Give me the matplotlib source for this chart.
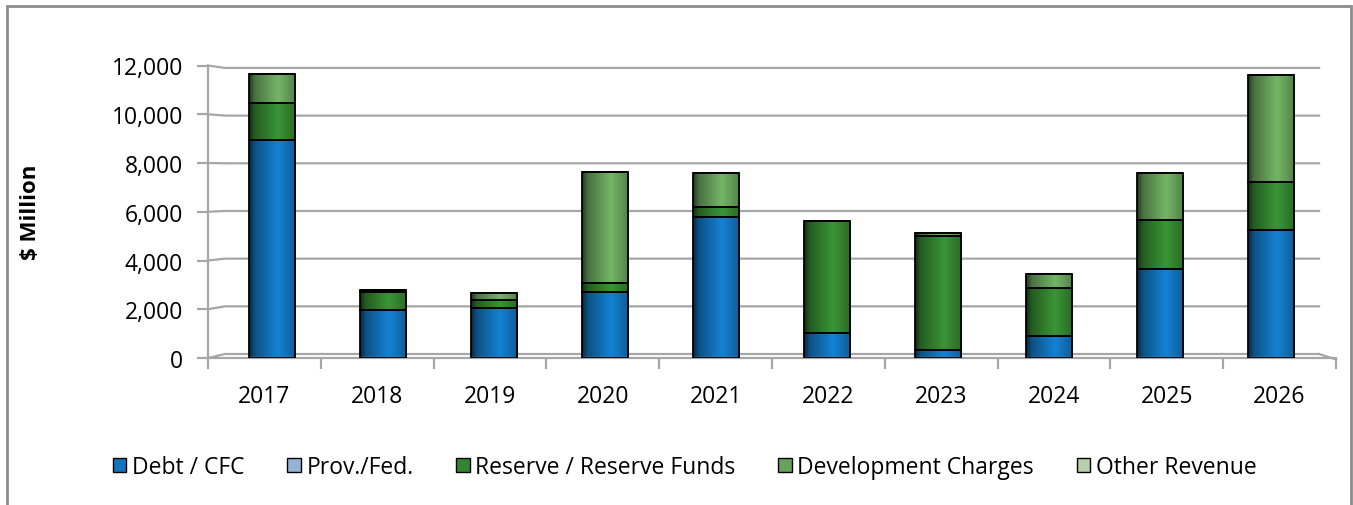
"""Stacked capital funding chart, 2017-2026 ($ Million)."""

import matplotlib

matplotlib.use("Agg")
import matplotlib.pyplot as plt
import numpy as np
from matplotlib.colors import to_rgb
from matplotlib.patches import Patch, Rectangle

plt.rcParams["font.family"] = ["Open Sans", "DejaVu Sans"]

# Data
years = ["2017", "2018", "2019", "2020", "2021", "2022", "2023", "2024", "2025", "2026"]
debt = [8950, 1950, 2040, 2720, 5790, 1040, 320, 900, 3670, 5240]
prov_fed = [0, 0, 0, 0, 0, 0, 0, 0, 0, 0]
reserve = [1510, 760, 340, 340, 410, 4580, 4680, 1960, 2000, 2000]
dev_charges = [1200, 60, 275, 4580, 1400, 0, 130, 590, 1920, 4360]
other_rev = [0, 0, 0, 0, 0, 0, 0, 0, 0, 0]
y_ticks = [0, 2000, 4000, 6000, 8000, 10000, 12000]

series = [
    ("Debt / CFC", debt, "#1274bd"),
    ("Prov./Fed.", prov_fed, "#95b3d7"),
    ("Reserve / Reserve Funds", reserve, "#348530"),
    ("Development Charges", dev_charges, "#68a25c"),
    ("Other Revenue", other_rev, "#b7d0aa"),
]

W, H = 1353, 506
fig = plt.figure(figsize=(W / 100, H / 100), dpi=100)
ax = fig.add_axes([208 / W, 1 - 359 / H, (1336 - 208) / W, (359 - 66.5) / H])

grid_c = "#a6a6a6"
x = np.arange(len(years))
# bars sit a little deeper than the category axis (3D look)
x_bar = x * 0.984 + 0.067
width = 0.41

# cylinder-like horizontal shading
prof_pos = [0.0, 0.12, 0.62, 1.0]
prof_val = [0.35, 0.7, 1.12, 0.8]
t = np.linspace(0, 1, 64)
shade = np.interp(t, prof_pos, prof_val)

bottom = np.zeros(len(years))
for name, vals, color in series:
    vals = np.array(vals, dtype=float)
    base = np.array(to_rgb(color))
    grad = np.clip(base[None, :] * shade[:, None], 0, 1)[None, :, :]
    bars = ax.bar(x_bar, vals, width, bottom=bottom, facecolor="none",
                  edgecolor="black", linewidth=1.3, zorder=3)
    for patch, v, b in zip(bars.patches, vals, bottom):
        if v <= 0:
            continue
        x0 = patch.get_x()
        im = ax.imshow(grad, extent=[x0, x0 + width, b, b + v], aspect="auto",
                       interpolation="bilinear", zorder=2)
        im.set_clip_path(patch)
    bottom += vals

# back-wall gridlines with a small perspective step at the left wall
for v in y_ticks:
    back = 164 + 0.978 * v
    ax.plot([-0.5, -0.35, 9.35], [v, back, back], color=grid_c, lw=1.6,
            zorder=1, clip_on=False)
# floor right edge
ax.plot([9.35, 9.5], [164, -60], color=grid_c, lw=1.6, zorder=1, clip_on=False)

ax.set_xlim(-0.5, 9.5)
ax.set_ylim(0, 12000)
ax.set_yticks(y_ticks)
ax.set_yticklabels([f"{v:,}" for v in y_ticks])
ax.set_xticks(x)
ax.set_xticklabels(years)
ax.set_xticks(np.arange(-0.5, 10, 1.0), minor=True)

for s in ["top", "right"]:
    ax.spines[s].set_visible(False)
for s in ["left", "bottom"]:
    ax.spines[s].set_color(grid_c)
    ax.spines[s].set_linewidth(1.6)

ax.tick_params(axis="y", length=8, width=1.6, color=grid_c, pad=10,
               labelsize=16.5, direction="out")
ax.tick_params(axis="x", which="major", length=0, pad=19, labelsize=16.5)
ax.tick_params(axis="x", which="minor", length=8, width=1.6, color=grid_c,
               direction="out")

fig.text(31 / W, 1 - 212 / H, "$ Million", rotation=90, ha="center",
         va="center", fontsize=16, fontweight="bold")

handles = [Patch(facecolor=c, edgecolor="black", linewidth=1.0) for _, _, c in series]
labels = [n for n, _, _ in series]
fig.legend(handles, labels, loc="center", bbox_to_anchor=(0.506, 1 - 468 / H),
           ncol=5, frameon=False, fontsize=16.5, handlelength=0.6,
           handleheight=0.6, handletextpad=0.25, columnspacing=1.85)

# chart-area frame (bottom edge lies outside the picture)
fig.patches.append(Rectangle((7 / W, -0.1), (1351 - 7) / W, 1.1 - 7 / H,
                             transform=fig.transFigure, fill=False,
                             edgecolor="#8c8c8c", linewidth=2))

fig.savefig("out.png", dpi=100)
